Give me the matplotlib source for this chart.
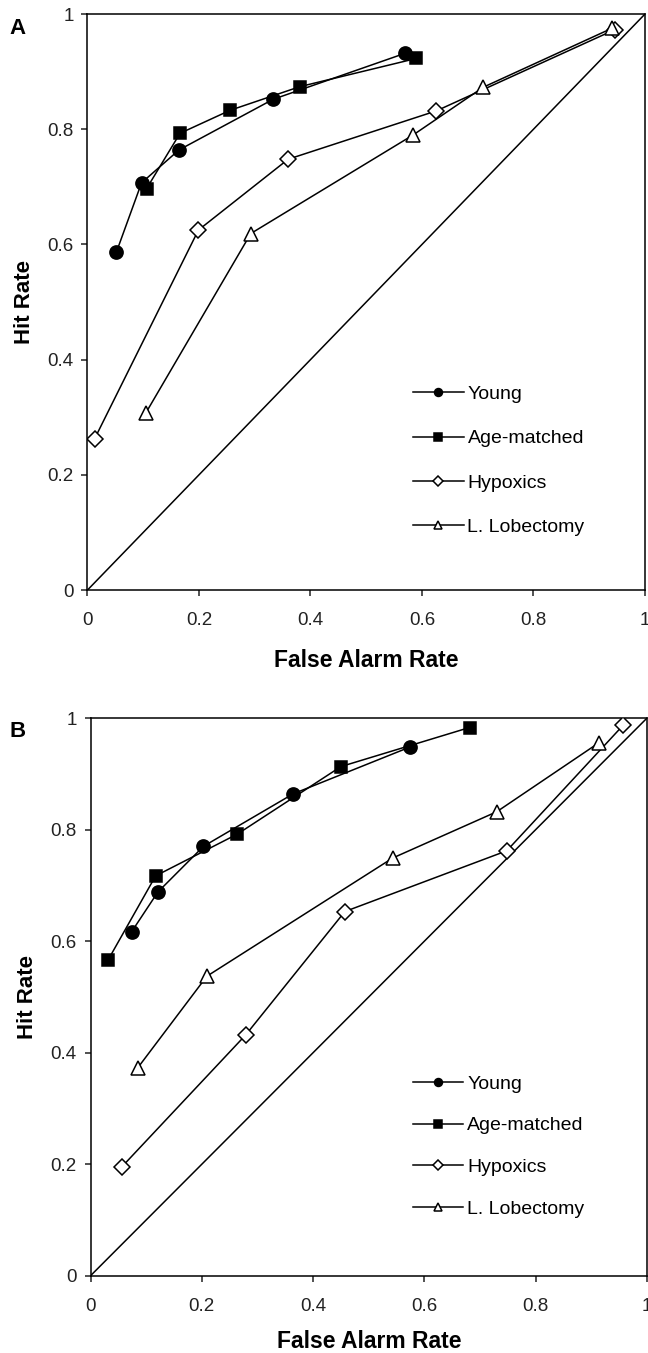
import matplotlib
matplotlib.use("Agg")
import matplotlib.pyplot as plt

plt.rcParams['font.family'] = ['Liberation Sans', 'DejaVu Sans']

# Panel A data (false alarm rate, hit rate)
young_fa_a = [0.052, 0.097, 0.164, 0.333, 0.570]
young_hit_a = [0.587, 0.707, 0.764, 0.852, 0.932]
aged_fa_a = [0.106, 0.166, 0.256, 0.381, 0.590]
aged_hit_a = [0.697, 0.793, 0.833, 0.874, 0.923]
hypox_fa_a = [0.013, 0.199, 0.360, 0.626, 0.946]
hypox_hit_a = [0.263, 0.625, 0.748, 0.832, 0.973]
lobe_fa_a = [0.105, 0.293, 0.584, 0.710, 0.940]
lobe_hit_a = [0.308, 0.619, 0.790, 0.873, 0.975]

# Panel B data
young_fa_b = [0.074, 0.121, 0.203, 0.364, 0.574]
young_hit_b = [0.617, 0.688, 0.770, 0.864, 0.948]
aged_fa_b = [0.032, 0.117, 0.264, 0.450, 0.681]
aged_hit_b = [0.567, 0.717, 0.792, 0.913, 0.983]
hypox_fa_b = [0.056, 0.279, 0.457, 0.748, 0.957]
hypox_hit_b = [0.195, 0.432, 0.653, 0.762, 0.987]
lobe_fa_b = [0.085, 0.209, 0.543, 0.730, 0.914]
lobe_hit_b = [0.373, 0.537, 0.749, 0.832, 0.956]

labels = ['Young', 'Age-matched', 'Hypoxics', 'L. Lobectomy']
ticks = [0, 0.2, 0.4, 0.6, 0.8, 1]
tick_labels = ['0', '0.2', '0.4', '0.6', '0.8', '1']


def draw_panel(ax, data, letter, letter_x, leg_anchor, leg_spacing, xpad, xlabpad):
    ax.plot([0, 1], [0, 1], color='black', lw=1.1, zorder=1)
    styles = [
        dict(marker='o', ms=9.5, mfc='black'),
        dict(marker='s', ms=9, mfc='black'),
        dict(marker='D', ms=8.5, mfc='white'),
        dict(marker='^', ms=10, mfc='white'),
    ]
    for (fa, hit), lab, st in zip(data, labels, styles):
        ax.plot(fa, hit, color='black', lw=1.1, mec='black', mew=1.1,
                label=lab, zorder=3, **st)
    ax.set_xlim(0, 1)
    ax.set_ylim(0, 1)
    ax.set_xticks(ticks)
    ax.set_xticklabels(tick_labels)
    ax.set_yticks(ticks)
    ax.set_yticklabels(tick_labels)
    ax.tick_params(direction='out', length=4, width=1.1, labelsize=13.5,
                   colors='#222222')
    ax.tick_params(axis='x', pad=xpad)
    ax.tick_params(axis='y', pad=6)
    for sp in ax.spines.values():
        sp.set_linewidth(1.1)
    ax.set_xlabel('False Alarm Rate', fontsize=16.5, fontweight='heavy', labelpad=xlabpad)
    ax.set_ylabel('Hit Rate', fontsize=16, fontweight='heavy', labelpad=9)
    ax.legend(loc='upper left', bbox_to_anchor=leg_anchor, frameon=False,
              fontsize=14, handlelength=2.6, handletextpad=0.2,
              labelspacing=leg_spacing, markerscale=0.6, borderpad=0,
              borderaxespad=0)
    ax.text(letter_x, 0.975, letter, transform=ax.transAxes, fontsize=16,
            fontweight='bold', ha='center', va='center')


fig = plt.figure(figsize=(6.48, 13.53), dpi=100)
ax_a = fig.add_axes([0.135, 0.5639, 0.8603, 0.4257])
ax_b = fig.add_axes([0.1397, 0.0571, 0.8588, 0.4122])

draw_panel(ax_a, [(young_fa_a, young_hit_a), (aged_fa_a, aged_hit_a),
                  (hypox_fa_a, hypox_hit_a), (lobe_fa_a, lobe_hit_a)],
           'A', -0.126, (0.584, 0.355), 1.37, 12, 14)
draw_panel(ax_b, [(young_fa_b, young_hit_b), (aged_fa_b, aged_hit_b),
                  (hypox_fa_b, hypox_hit_b), (lobe_fa_b, lobe_hit_b)],
           'B', -0.132, (0.579, 0.360), 1.245, 12, 11)

fig.savefig('out.png', dpi=100)
